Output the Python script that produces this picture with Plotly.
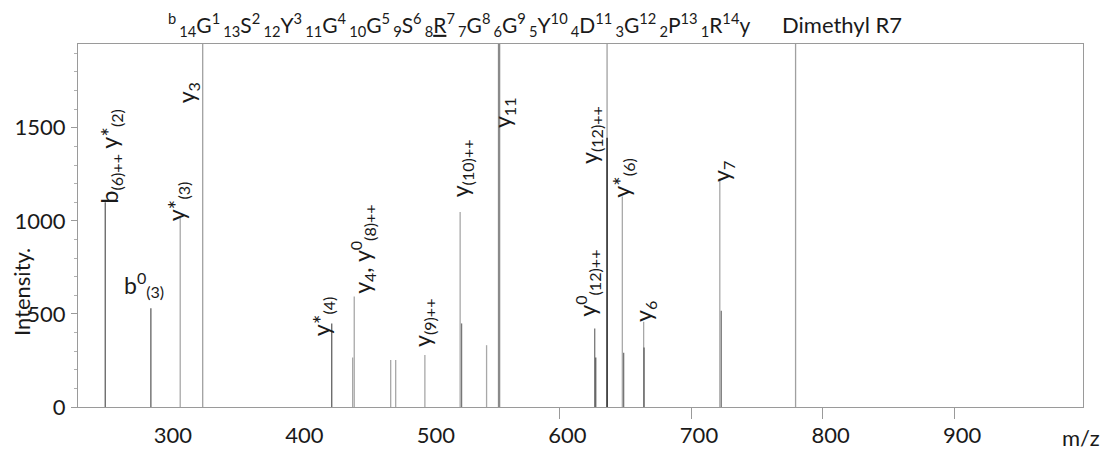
import plotly.graph_objects as go

# ---- MS/MS fragment peaks (m/z, intensity), grouped by stick shade ----
black_mz = [636.2]
black_int = [1446]

dark_mz = [254.7, 289.4, 426.9, 627.6, 664.3]
dark_int = [1100, 530, 449, 266, 320]

mid_mz = [525.6, 626.8, 648.8, 723.0]
mid_int = [449, 422, 291, 517]

light_mz = [311.7, 442.8, 444.0, 471.7, 475.5, 497.7, 524.5, 544.6, 647.8, 664.0, 721.9]
light_int = [1015, 266, 593, 252, 252, 279, 1047, 332, 1131, 458, 1227]

# peaks that run off the top of the intensity scale
offscale_mz = [328.8, 554.1, 636.2, 779.5]
offscale_int = [2400, 2400, 2400, 2400]

# ---- axes ----
x_range = [234, 998]
y_range = [0, 1950]
x_ticks = [300, 400, 500, 600, 700, 800, 900]
x_tickmarks = [600, 700, 800, 900]
y_ticks = [0, 500, 1000, 1500]

# ---- peptide sequence header ----
residues = ["G", "S", "Y", "G", "G", "S", "R", "G", "G", "Y", "D", "G", "P", "R"]
modified_position = 7
modification_text = "Dimethyl R7"

# ---- ion annotations: (m/z, label) ----
ion_labels = [
    (254.7, "b<sub>(6)++</sub> y*<sub>(2)</sub>"),
    (289.4, "b<sup>0</sup><sub>(3)</sub>"),
    (311.7, "y*<sub>(3)</sub>"),
    (328.8, "y<sub>3</sub>"),
    (426.9, "y*<sub>(4)</sub>"),
    (444.0, "y<sub>4</sub>, y<sup>0</sup><sub>(8)++</sub>"),
    (497.7, "y<sub>(9)++</sub>"),
    (524.5, "y<sub>(10)++</sub>"),
    (554.1, "y<sub>11</sub>"),
    (636.2, "y<sub>(12)++</sub>"),
    (647.8, "y*<sub>(6)</sub>"),
    (626.8, "y<sup>0</sup><sub>(12)++</sub>"),
    (664.0, "y<sub>6</sub>"),
    (721.9, "y<sub>7</sub>"),
]

FONT = "Lato, 'Open Sans', sans-serif"
TEXT_COLOR = "#1a1a1a"

W, H = 1113, 452
L, R, T, B = 78, 30, 44, 45


def sticks(mz, inten):
    xs, ys = [], []
    for m, i in zip(mz, inten):
        xs += [m, m, None]
        ys += [0, i, None]
    return xs, ys


def px_to_paper(x, y_from_top):
    return (x - L) / (W - L - R), (H - y_from_top - B) / (H - T - B)


fig = go.Figure()

series = [
    (offscale_mz, offscale_int, "#a0a0a0", 1.3),
    (light_mz, light_int, "#a8a8a8", 1.3),
    (mid_mz, mid_int, "#777777", 1.3),
    (dark_mz, dark_int, "#555555", 1.2),
    (black_mz, black_int, "#222222", 1.4),
]
for mz, inten, color, width in series:
    xs, ys = sticks(mz, inten)
    fig.add_trace(go.Scatter(x=xs, y=ys, mode="lines",
                             line=dict(color=color, width=width),
                             hoverinfo="skip", showlegend=False))

# the y11 stick is drawn heavier
xs, ys = sticks([offscale_mz[1]], [offscale_int[1]])
fig.add_trace(go.Scatter(x=xs, y=ys, mode="lines",
                         line=dict(color="#8a8a8a", width=2.4),
                         hoverinfo="skip", showlegend=False))

# look-up of each stick's top for label placement
all_peaks = {}
for mz, inten in [(light_mz, light_int), (mid_mz, mid_int),
                  (dark_mz, dark_int), (black_mz, black_int)]:
    for m, i in zip(mz, inten):
        all_peaks[m] = i

# label placement: (xshift px, yshift px, angle, fixed level for off-scale sticks)
placement = {
    254.7: (5, -2, -90, None),
    289.4: (-7, 6, 0, None),
    311.7: (-3, -4, -90, None),
    328.8: (-15, -3, -90, 1643),
    426.9: (-9, -14, -90, None),
    444.0: (8, 2, -90, None),
    497.7: (-2, 7, -90, None),
    524.5: (1, 14, -90, None),
    554.1: (5, -3, -90, 1507),
    636.2: (-16, -27, -90, None),
    647.8: (0, -2, -90, None),
    626.8: (-7, 11, -90, None),
    664.0: (1, -1, -90, None),
    721.9: (2, -4, -90, None),
}

for mz, text in ion_labels:
    dx, dy, ang, level = placement[mz]
    y = level if level is not None else all_peaks[mz]
    fig.add_annotation(x=mz, y=y, xref="x", yref="y", text=text,
                       showarrow=False, textangle=ang,
                       xanchor="center", yanchor="bottom",
                       xshift=dx, yshift=dy, borderpad=0,
                       font=dict(family=FONT, size=23, color=TEXT_COLOR))

# sequence header with b/y numbering; a narrow spacer separates residues
gap = '<span style="font-size:12px"> </span>'
parts = ["<sup>b</sup>"]
n = len(residues)
for k, aa in enumerate(residues, start=1):
    letter = f"<u>{aa}</u>" if k == modified_position else aa
    parts.append(f"{gap}<sub>{n - k + 1}</sub>{letter}<sup>{k}</sup>")
parts.append("y")
header = "".join(parts)

hx, hy = px_to_paper(166, 24)
fig.add_annotation(x=hx, y=hy, xref="paper", yref="paper",
                   text=header, showarrow=False, xanchor="left", yanchor="middle",
                   font=dict(family=FONT, size=21, color=TEXT_COLOR))
mx, my = px_to_paper(780, 24)
fig.add_annotation(x=mx, y=my, xref="paper", yref="paper",
                   text=modification_text, showarrow=False,
                   xanchor="left", yanchor="middle",
                   font=dict(family=FONT, size=22, color=TEXT_COLOR))

# axis titles
ix, iy = px_to_paper(21, 292)
fig.add_annotation(x=ix, y=iy, xref="paper", yref="paper",
                   text="Intensity.", showarrow=False, textangle=-90,
                   xanchor="center", yanchor="middle",
                   font=dict(family=FONT, size=22, color=TEXT_COLOR))
zx, zy = px_to_paper(1081, 437)
fig.add_annotation(x=zx, y=zy, xref="paper", yref="paper",
                   text="m/z", showarrow=False,
                   xanchor="center", yanchor="middle",
                   font=dict(family=FONT, size=22, color=TEXT_COLOR))

fig.update_layout(
    width=W, height=H, autosize=False,
    margin=dict(l=L, r=R, t=T, b=B, pad=0, autoexpand=False),
    paper_bgcolor="white", plot_bgcolor="white",
    font=dict(family=FONT, size=21, color=TEXT_COLOR),
    showlegend=False,
)

fig.update_xaxes(
    range=x_range, showgrid=False, zeroline=False, automargin=False,
    showline=True, mirror=True, linecolor="#9a9a9a", linewidth=1.2,
    tickmode="array", tickvals=x_ticks, ticks="inside", ticklen=0,
    ticklabelshift=8, ticklabelstandoff=8,
    minor=dict(tickmode="array", tickvals=x_tickmarks, ticks="outside",
               ticklen=11, tickcolor="#9a9a9a", tickwidth=1),
    tickfont=dict(family=FONT, size=22, color=TEXT_COLOR),
)
fig.update_yaxes(
    range=y_range, showgrid=False, zeroline=False, automargin=False,
    showline=True, mirror=True, linecolor="#9a9a9a", linewidth=1.2,
    tickmode="array", tickvals=y_ticks, ticks="outside", ticklen=6,
    tickcolor="#9a9a9a", ticklabelstandoff=1,
    minor=dict(dtick=100, tick0=0, ticks="outside", ticklen=3,
               tickcolor="#b0b0b0"),
    tickfont=dict(family=FONT, size=22, color=TEXT_COLOR),
)

fig.write_html("out.html")
